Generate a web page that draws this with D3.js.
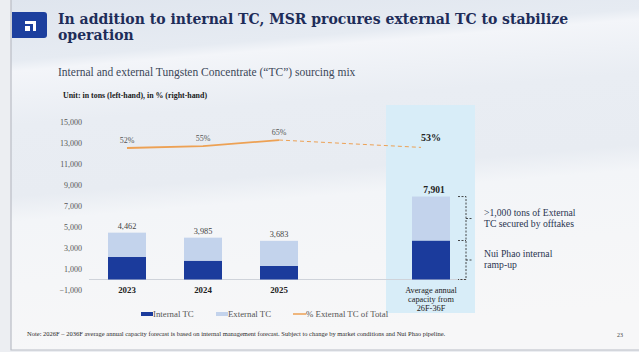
<!DOCTYPE html>
<html>
<head>
<meta charset="utf-8">
<script src="https://cdn.jsdelivr.net/npm/d3@7"></script>
<style>
body { margin: 0; background: #eceef2; }
svg { display: block; }
text { font-family: "Liberation Serif", "DejaVu Serif", serif; }
</style>
</head>
<body>
<script>
// data
var categories = ['2023', '2024', '2025', 'gap', 'avg'];
var internalTC = [2142, 1793, 1289, null, 3713];
var externalTC = [2320, 2192, 2394, null, 4188];
var totals = [4462, 3985, 3683, null, 7901];
var pctExternal = [52, 55, 65, null, 53];
var yTicks = [-1000, 1000, 3000, 5000, 7000, 9000, 11000, 13000, 15000];
var avgLabel = ['Average annual', 'capacity from', '26F-36F'];
var seriesNames = ['Internal TC', 'External TC', '% External TC of Total'];
var notes = [
	['>1,000 tons of External', 'TC secured by offtakes'],
	['Nui Phao internal', 'ramp-up']
];

var colInternal = '#1b3b9c',
	colExternal = '#c3d3ec',
	colLine = '#eda154';

var W = 639, H = 352;

var svg = d3.select('body').append('svg')
	.attr('width', W)
	.attr('height', H);

// background
var defs = svg.append('defs');
var grad = defs.append('linearGradient')
	.attr('id', 'bg')
	.attr('x1', 0).attr('y1', 0).attr('x2', 0.15).attr('y2', 1);
[['0', '#dfe5ee'], ['0.17', '#e6ebf2'], ['0.2', '#f3f5f9'], ['0.35', '#e9edf3'],
 ['0.55', '#e8ecf2'], ['0.62', '#f3f5f8'], ['0.8', '#f5f6f8'], ['1', '#f7f7f8']]
	.forEach(function(s) {
		grad.append('stop').attr('offset', s[0]).attr('stop-color', s[1]);
	});

svg.append('rect')
	.attr('x', 11).attr('y', 0)
	.attr('width', W - 11).attr('height', 350)
	.attr('fill', 'url(#bg)');

svg.append('path')
	.attr('d', 'M11,0V350H' + W)
	.attr('fill', 'none')
	.attr('stroke', '#b9bdc5')
	.attr('stroke-width', 1.2);

// logo box
svg.append('path')
	.attr('d', 'M12,12H44Q47,12 47,15V35Q47,38 44,38H12Z')
	.attr('fill', '#1c3f9e');
svg.append('path')
	.attr('d', 'M25,21H36V31H33V24H25Z')
	.attr('fill', '#fff');
svg.append('rect')
	.attr('x', 25).attr('y', 26).attr('width', 5).attr('height', 5)
	.attr('fill', '#fff');

// title (two lines, set apart so they do not collide)
var titleLines = ['In addition to internal TC, MSR procures external TC to stabilize', 'operation'];
titleLines.forEach(function(t, i) {
	svg.append('text')
		.attr('x', 58).attr('y', 24 + i * 16.4)
		.attr('fill', '#1e2d59')
		.style('font-family', '"DejaVu Serif", serif')
		.style('font-size', '14px')
		.style('font-weight', 'bold')
		.text(t);
});

svg.append('text')
	.attr('x', 58).attr('y', 76)
	.attr('fill', '#3b4758')
	.style('font-size', '11.5px')
	.text('Internal and external Tungsten Concentrate (\u201CTC\u201D) sourcing mix');

svg.append('text')
	.attr('x', 63).attr('y', 97.5)
	.attr('fill', '#1a1a1a')
	.style('font-size', '7.9px')
	.style('font-weight', 'bold')
	.text('Unit: in tons (left-hand), in % (right-hand)');

// scales
var x = d3.scaleBand()
	.domain(categories)
	.range([89, 469])
	.paddingInner(0.5)
	.paddingOuter(0.25);

var y = d3.scaleLinear()
	.domain([-1000, 15000])
	.range([290, 122]);

var y2 = d3.scaleLinear()
	.domain([0, 100])
	.range([180, 118.5]);

var bw = x.bandwidth();
var cx = function(c) { return x(c) + bw / 2; };

// highlight for the forecast column
svg.append('rect')
	.attr('x', cx('avg') - 45)
	.attr('y', 105)
	.attr('width', 89)
	.attr('height', 208)
	.attr('fill', '#d8edf8');

// y axis (labels only)
var yAxis = svg.append('g')
	.attr('transform', 'translate(82,0)')
	.call(d3.axisLeft(y).tickValues(yTicks).tickSize(0).tickPadding(0)
		.tickFormat(d3.format(',')));
yAxis.select('.domain').remove();
yAxis.selectAll('text')
	.attr('fill', '#555')
	.style('font-family', '"Liberation Serif", serif')
	.style('font-size', '8px');

// baseline
svg.append('line')
	.attr('x1', 89).attr('x2', 467)
	.attr('y1', y(0)).attr('y2', y(0))
	.attr('stroke', '#cfd3da')
	.attr('stroke-width', 1);

// stacked bars
var table = categories.map(function(c, i) {
	return { cat: c, internal: internalTC[i] || 0, external: externalTC[i] || 0 };
}).filter(function(d, i) { return totals[i] != null; });

var stack = d3.stack().keys(['internal', 'external'])(table);

svg.selectAll('g.layer')
	.data(stack).enter()
	.append('g')
	.attr('class', 'layer')
	.attr('fill', function(d) { return d.key == 'internal' ? colInternal : colExternal; })
	.selectAll('rect')
	.data(function(d) { return d; }).enter()
	.append('rect')
	.attr('x', function(d) { return x(d.data.cat); })
	.attr('y', function(d) { return y(d[1]); })
	.attr('width', bw)
	.attr('height', function(d) { return y(d[0]) - y(d[1]); });

// totals on top
categories.forEach(function(c, i) {
	if (totals[i] == null) return;
	var big = c == 'avg';
	svg.append('text')
		.attr('x', cx(c) + (big ? 3 : 0))
		.attr('y', y(totals[i]) - 4)
		.attr('text-anchor', 'middle')
		.attr('fill', big ? '#222' : '#444')
		.style('font-size', big ? '9.5px' : '8.3px')
		.style('font-weight', big ? 'bold' : 'normal')
		.text(d3.format(',')(totals[i]));
});

// x labels
categories.slice(0, 3).forEach(function(c) {
	svg.append('text')
		.attr('x', cx(c))
		.attr('y', 293)
		.attr('text-anchor', 'middle')
		.attr('fill', '#222')
		.style('font-size', '8.8px')
		.style('font-weight', 'bold')
		.text(c);
});
avgLabel.forEach(function(t, i) {
	svg.append('text')
		.attr('x', cx('avg'))
		.attr('y', 293 + i * 9)
		.attr('text-anchor', 'middle')
		.attr('fill', '#222')
		.style('font-size', '8.3px')
		.text(t);
});

// % external line
var pts = categories.map(function(c, i) { return { cat: c, v: pctExternal[i] }; })
	.filter(function(d) { return d.v != null; });

var line = d3.line()
	.x(function(d) { return cx(d.cat); })
	.y(function(d) { return y2(d.v); });

svg.append('path')
	.datum(pts.slice(0, 3))
	.attr('d', line)
	.attr('fill', 'none')
	.attr('stroke', colLine)
	.attr('stroke-width', 1.8);

svg.append('path')
	.datum(pts.slice(2))
	.attr('d', d3.line()
		.x(function(d) { return d.cat == 'avg' ? cx(d.cat) - 10 : cx(d.cat); })
		.y(function(d) { return y2(d.v); }))
	.attr('fill', 'none')
	.attr('stroke', colLine)
	.attr('stroke-width', 1)
	.attr('stroke-dasharray', '4,3');

pts.forEach(function(d) {
	var big = d.cat == 'avg';
	svg.append('text')
		.attr('x', cx(d.cat))
		.attr('y', y2(d.v) - (big ? 6 : 5))
		.attr('text-anchor', 'middle')
		.attr('fill', big ? '#222' : '#555')
		.style('font-size', big ? '10px' : '8px')
		.style('font-weight', big ? 'bold' : 'normal')
		.text(d.v + '%');
});

// brackets next to forecast bar
var iAvg = categories.indexOf('avg');
var bx = x('avg') + bw + 8;
var yTop = y(totals[iAvg]), yMid = y(internalTC[iAvg]), yBot = y(0);
var br = 'M' + bx + ',' + yTop + 'h8V' + yBot + 'h-8'
	+ 'M' + bx + ',' + yMid + 'h8'
	+ 'M' + (bx + 8) + ',' + ((yTop + yMid) / 2) + 'h6'
	+ 'M' + (bx + 8) + ',' + ((yMid + yBot) / 2) + 'h6';
svg.append('path')
	.attr('d', br)
	.attr('fill', 'none')
	.attr('stroke', '#333')
	.attr('stroke-width', 0.9)
	.attr('stroke-dasharray', '2,1.5');

var noteY = [(yTop + yMid) / 2, (yMid + yBot) / 2];
notes.forEach(function(lines, k) {
	lines.forEach(function(t, j) {
		svg.append('text')
			.attr('x', 484)
			.attr('y', noteY[k] - 3 + j * 11)
			.attr('fill', '#2a3550')
			.style('font-size', '9.7px')
			.text(t);
	});
});

// legend
var leg = svg.append('g').attr('transform', 'translate(0,317)');
var legX = [141, 216, 293];
seriesNames.forEach(function(n, i) {
	if (i < 2) {
		leg.append('rect')
			.attr('x', legX[i]).attr('y', -5)
			.attr('width', 12).attr('height', 4)
			.attr('fill', i == 0 ? colInternal : colExternal);
	} else {
		leg.append('line')
			.attr('x1', legX[i]).attr('x2', legX[i] + 13)
			.attr('y1', -3).attr('y2', -3)
			.attr('stroke', colLine)
			.attr('stroke-width', 1.5);
	}
	leg.append('text')
		.attr('x', legX[i] + (i < 2 ? 12 : 13))
		.attr('y', 0)
		.attr('fill', '#555')
		.style('font-size', '8.8px')
		.text(n);
});

// footnote
svg.append('text')
	.attr('x', 27).attr('y', 336)
	.attr('fill', '#2a2a2a')
	.style('font-size', '6.5px')
	.text('Note: 2026F \u2013 2036F average annual capacity forecast is based on internal management forecast. Subject to change by market conditions and Nui Phao pipeline.');

svg.append('text')
	.attr('x', 617).attr('y', 337)
	.attr('fill', '#444')
	.style('font-size', '6px')
	.text('23');
</script>
</body>
</html>
